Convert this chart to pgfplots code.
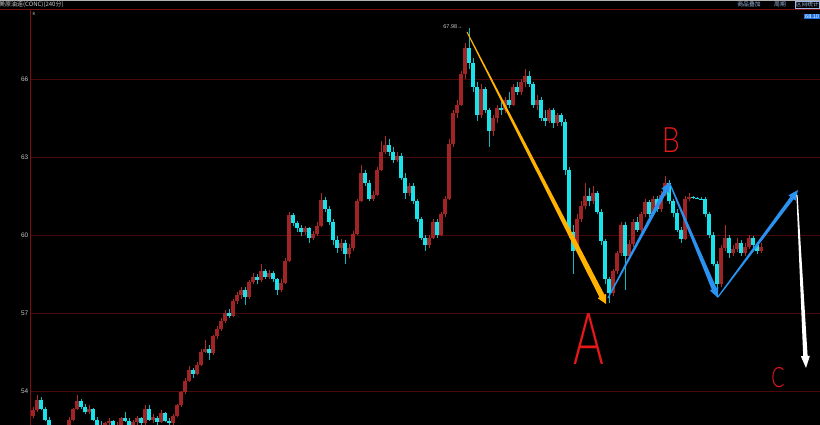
\documentclass[border=0pt]{standalone}
\usepackage{fontspec}
\setmainfont{Liberation Sans}
\newfontfamily\cjk{Noto Sans CJK SC}
\newfontfamily\thinfont{Lato Light}
\usepackage{pgfplots}
\pgfplotsset{compat=1.18}
\usepackage{pgfplotstable}
\definecolor{upbody}{HTML}{A02424}
\definecolor{upwick}{HTML}{B02A2A}
\definecolor{dnbody}{HTML}{19E3EA}
\definecolor{dnwick}{HTML}{12B8C0}
\definecolor{gridred}{HTML}{4A0A0A}
\definecolor{axisred}{HTML}{7A1010}
\definecolor{ticktext}{HTML}{C8C8C8}
\definecolor{hdrblue}{HTML}{9DB8E0}
\definecolor{arrowyellow}{HTML}{FFB300}
\definecolor{arrowblue}{HTML}{2A92F0}
\definecolor{penred}{HTML}{E81818}
\definecolor{pricebox}{HTML}{2070E0}

\pgfplotstableread{
x o h l c
0 53.05 53.40 52.95 53.27
1 53.27 53.85 53.20 53.65
2 53.65 53.75 53.25 53.30
3 53.30 53.40 52.85 52.90
4 52.90 53.00 52.50 52.60
5 52.60 52.65 52.30 52.40
6 52.40 52.55 52.20 52.35
7 52.35 52.60 52.25 52.50
8 52.50 52.70 52.40 52.60
9 52.60 53.00 52.55 52.90
10 52.90 53.35 52.85 53.30
11 53.30 53.85 53.25 53.60
12 53.60 53.70 53.30 53.40
13 53.40 53.50 53.10 53.20
14 53.20 53.45 53.10 53.30
15 53.30 53.35 52.85 52.90
16 52.90 53.00 52.60 52.70
17 52.70 52.85 52.50 52.60
18 52.60 52.80 52.50 52.75
19 52.75 52.95 52.65 52.85
20 52.85 52.90 52.55 52.65
21 52.65 52.80 52.50 52.70
22 52.70 53.00 52.60 52.95
23 52.95 53.20 52.80 52.85
24 52.85 52.95 52.60 52.70
25 52.70 52.90 52.60 52.80
26 52.80 53.05 52.70 52.95
27 52.95 53.00 52.70 52.75
28 52.75 53.45 52.70 53.30
29 53.30 53.45 52.85 52.90
30 52.90 53.10 52.75 53.00
31 52.95 53.05 52.70 52.80
32 52.80 53.25 52.75 53.15
33 53.15 53.20 52.80 52.85
34 52.85 52.95 52.60 52.75
35 52.75 53.10 52.70 53.05
36 53.05 53.50 53.00 53.45
37 53.45 54.00 53.40 53.95
38 53.95 54.50 53.90 54.40
39 54.40 54.95 54.35 54.80
40 54.80 54.90 54.50 54.65
41 54.65 55.10 54.60 55.00
42 55.00 55.60 54.95 55.50
43 55.50 55.95 55.45 55.60
44 55.60 55.75 55.20 55.45
45 55.45 56.15 55.40 56.10
46 56.10 56.50 56.00 56.40
47 56.40 56.80 56.30 56.70
48 56.70 57.10 56.60 57.00
49 57.00 57.15 56.80 56.90
50 56.90 57.55 56.85 57.45
51 57.45 57.80 57.35 57.70
52 57.70 58.00 57.55 57.90
53 57.90 58.00 57.30 57.60
54 57.60 58.25 57.55 58.20
55 58.20 58.55 58.10 58.40
56 58.40 58.50 58.10 58.25
57 58.25 58.90 58.20 58.60
58 58.60 58.70 58.30 58.40
59 58.40 58.65 58.30 58.55
60 58.55 58.60 58.20 58.30
61 58.30 58.35 57.70 57.90
62 57.90 58.30 57.80 58.15
63 58.15 59.10 58.10 59.00
64 59.00 60.90 58.95 60.75
65 60.75 60.85 60.35 60.45
66 60.45 60.55 60.10 60.25
67 60.25 60.40 59.95 60.10
68 60.10 60.35 60.00 60.25
69 60.25 60.30 59.70 59.90
70 59.90 60.15 59.80 60.05
71 60.05 60.50 59.95 60.35
72 60.35 61.60 60.30 61.35
73 61.35 61.45 60.90 61.00
74 61.00 61.10 60.40 60.50
75 60.50 60.60 59.60 59.80
76 59.80 59.95 59.30 59.50
77 59.50 59.85 59.40 59.70
78 59.70 59.80 58.90 59.25
79 59.25 59.65 59.10 59.50
80 59.50 60.15 59.40 60.05
81 60.05 61.40 60.00 61.30
82 61.30 62.70 61.25 62.40
83 62.40 62.50 61.90 62.00
84 62.00 62.10 61.30 61.40
85 61.40 61.70 61.30 61.55
86 61.55 62.60 61.50 62.50
87 62.50 63.60 62.45 63.20
88 63.20 63.80 63.10 63.45
89 63.45 63.70 63.05 63.20
90 63.20 63.40 62.75 62.90
91 62.90 63.20 62.80 63.05
92 63.05 63.15 62.10 62.20
93 62.20 62.40 61.40 61.60
94 61.60 62.00 61.50 61.90
95 61.90 62.00 61.20 61.30
96 61.30 61.40 60.50 60.60
97 60.60 60.70 59.80 59.90
98 59.90 60.00 59.40 59.60
99 59.60 60.00 59.50 59.90
100 59.90 60.60 59.85 60.50
101 60.50 60.60 59.90 60.00
102 60.00 60.90 59.95 60.80
103 60.80 61.50 60.70 61.40
104 61.40 63.70 61.35 63.50
105 63.50 64.80 63.40 64.70
106 64.70 65.20 64.50 65.00
107 65.00 66.30 64.95 66.20
108 66.20 67.40 66.00 67.20
109 67.20 67.98 66.40 66.60
110 66.60 66.80 65.50 65.70
111 65.70 65.90 64.40 64.60
112 64.60 65.80 64.50 65.60
113 65.60 65.70 64.70 64.80
114 64.80 64.90 63.40 64.00
115 64.00 64.60 63.80 64.50
116 64.50 65.00 64.30 64.90
117 64.90 65.10 64.60 64.80
118 64.80 65.30 64.70 65.20
119 65.20 65.50 64.90 65.00
120 65.00 65.80 64.95 65.70
121 65.70 65.90 65.40 65.50
122 65.50 66.00 65.40 65.90
123 65.90 66.40 65.70 66.10
124 66.10 66.30 65.70 65.80
125 65.80 65.90 64.90 65.00
126 65.00 65.40 64.80 65.20
127 65.20 65.30 64.40 64.50
128 64.50 64.80 64.20 64.40
129 64.40 64.90 64.30 64.80
130 64.80 64.90 64.10 64.30
131 64.30 64.70 64.20 64.60
132 64.60 64.70 64.20 64.35
133 64.35 64.45 62.30 62.50
134 62.50 62.60 59.90 60.10
135 60.10 60.40 58.50 59.40
136 59.40 60.80 59.30 60.60
137 60.60 61.30 60.50 61.10
138 61.10 62.00 61.00 61.50
139 61.50 61.80 61.10 61.30
140 61.30 61.90 61.20 61.60
141 61.60 61.70 60.80 60.90
142 60.90 61.00 59.60 59.75
143 59.75 59.85 58.10 58.30
144 58.30 58.40 57.40 57.75
145 57.75 58.70 57.65 58.60
146 58.60 59.40 58.50 59.30
147 59.30 60.50 59.20 60.40
148 60.40 60.50 57.90 59.20
149 59.20 59.80 59.10 59.65
150 59.65 60.60 59.55 60.50
151 60.50 60.70 60.10 60.20
152 60.20 60.90 60.10 60.80
153 60.80 61.40 60.70 61.25
154 61.25 61.35 60.70 60.80
155 60.80 61.50 60.75 61.40
156 61.40 61.50 60.90 61.00
157 61.00 61.70 60.90 61.55
158 61.55 62.25 61.50 62.00
159 62.00 62.10 61.20 61.30
160 61.30 61.40 60.70 60.85
161 60.85 61.00 60.10 60.20
162 60.20 60.30 59.70 59.85
163 59.85 61.50 59.80 61.40
164 61.40 61.60 61.30 61.45
165 61.45 61.50 61.40 61.42
166 61.42 61.45 61.38 61.40
167 61.40 61.45 61.35 61.38
168 61.38 61.45 60.70 60.80
169 60.80 60.90 59.90 60.00
170 60.00 60.10 58.80 58.90
171 58.90 59.00 57.80 58.10
172 58.10 59.60 58.00 59.50
173 59.50 60.40 59.40 59.90
174 59.90 60.00 59.10 59.30
175 59.30 59.60 59.20 59.45
176 59.45 59.90 59.35 59.70
177 59.70 59.80 59.20 59.30
178 59.30 59.70 59.20 59.55
179 59.55 60.00 59.45 59.90
180 59.90 59.95 59.50 59.60
181 59.60 59.70 59.25 59.40
182 59.40 59.70 59.30 59.55
}\candles

\begin{document}
\begin{tikzpicture}[x=1pt,y=1pt]
\fill[black] (0,0) rectangle (820,425);
\begin{axis}[
  at={(30pt,0pt)}, anchor=south west, scale only axis,
  width=790pt, height=416pt,
  xmin=-0.75, xmax=196.75, ymin=52.692, ymax=68.692,
  axis line style={draw=none},
  xtick=\empty,
  ytick={54,57,60,63,66},
  ymajorgrids, major grid style={draw=gridred, line width=0.7pt},
  major tick length=0pt,
  /pgf/number format/assume math mode=true,
  yticklabel style={font=\fontsize{6.5}{7}\selectfont, text=ticktext, inner sep=1.5pt},
  clip=true,
]
% wicks (segment from low to high)
\addplot[upwick, line width=0.9pt, forget plot,
  restrict expr to domain={\thisrow{c}-\thisrow{o}}{0:100},
  quiver={u=0, v={\thisrow{h}-\thisrow{l}}}]
  table[x=x, y=l]{\candles};
\addplot[dnwick, line width=0.9pt, forget plot,
  restrict expr to domain={\thisrow{c}-\thisrow{o}}{-100:-0.00001},
  quiver={u=0, v={\thisrow{h}-\thisrow{l}}}]
  table[x=x, y=l]{\candles};
% bodies (segment from open to close)
\addplot[upbody, line width=3.1pt, forget plot,
  restrict expr to domain={\thisrow{c}-\thisrow{o}}{0:100},
  quiver={u=0, v={max(\thisrow{c}-\thisrow{o},0.04)}}]
  table[x=x, y=o]{\candles};
\addplot[dnbody, line width=3.1pt, forget plot,
  restrict expr to domain={\thisrow{c}-\thisrow{o}}{-100:-0.00001},
  quiver={u=0, v={min(\thisrow{c}-\thisrow{o},-0.04)}}]
  table[x=x, y=o]{\candles};

% yellow arrow (peak to A)
\addplot[fill=arrowyellow, draw=none, forget plot] coordinates {
 (108.61,67.817) (142.85,57.703) (143.29,57.738) (143.25,57.346)
 (141.16,57.570) (141.60,57.605) (108.39,67.799)} -- cycle;
% blue arrows
\addplot[fill=arrowblue, draw=none, forget plot] coordinates {
 (143.88,57.566) (158.51,61.663) (159.07,61.618) (159.25,62.038)
 (157.08,61.781) (157.63,61.735) (143.62,57.588)} -- cycle;
\addplot[fill=arrowblue, draw=none, forget plot] coordinates {
 (159.39,61.970) (170.86,57.969) (171.32,57.999) (171.25,57.577)
 (169.24,57.864) (169.71,57.894) (159.11,61.953)} -- cycle;
\addplot[fill=arrowblue, draw=none, forget plot] coordinates {
 (171.37,57.602) (190.15,61.377) (190.65,61.319) (191.25,61.731)
 (188.85,61.527) (189.35,61.469) (171.13,57.629)} -- cycle;
% white arrow
\addplot[fill=white, draw=none, forget plot] coordinates {
 (191.15,61.540) (193.65,55.350) (194.22,55.355) (193.25,54.885)
 (191.97,55.337) (192.55,55.342) (190.85,61.537)} -- cycle;

\node[anchor=east, inner sep=0.5pt, text=ticktext, font=\fontsize{5.5}{6}\selectfont] at (axis cs:107.6,68.0) {67.98→};
\end{axis}

% axis frame lines
\draw[axisred, line width=0.8pt] (30,0) -- (30,416);
\draw[axisred, line width=0.8pt] (0,416) -- (820,416);
\draw[gray!60, line width=0.6pt] (0,424.7) -- (820,424.7);

% header
\node[anchor=west, inner sep=0pt, text=ticktext, font=\cjk\fontsize{6}{7}\selectfont] at (-1,420.3) {美原油连(CONC)(240分)};
\node[anchor=center, inner sep=0pt, text=hdrblue, font=\cjk\fontsize{5.8}{7}\selectfont] at (749,420.3) {商品叠加};
\node[anchor=center, inner sep=0pt, text=hdrblue, font=\cjk\fontsize{5.8}{7}\selectfont] at (780,420.3) {周期};
\node[anchor=west, draw=hdrblue, line width=0.4pt, inner sep=0.6pt, text=hdrblue, font=\cjk\fontsize{5.8}{7}\selectfont] at (795,420.3) {区间统计};
\node[anchor=west, inner sep=0pt, text=ticktext, font=\fontsize{4.5}{5}\selectfont] at (32.5,411) {K};
\node[anchor=east, fill=pricebox, inner sep=0.8pt, text=white, font=\fontsize{5.5}{6}\selectfont] at (820,408.5) {68.10};

% hand-written wave labels
\node[text=penred, inner sep=0pt, font=\thinfont\fontsize{72}{72}\selectfont] at (589,86) {\scalebox{0.65}[1]{A}};
\node[text=penred, inner sep=0pt, font=\thinfont\fontsize{35}{35}\selectfont] at (671,285) {\scalebox{0.8}[1]{B}};
\node[text=penred, inner sep=0pt, font=\thinfont\fontsize{28}{28}\selectfont] at (778,47) {\scalebox{0.7}[1]{C}};

\pgfresetboundingbox
\path (0,0) rectangle (820,425);
\end{tikzpicture}
\end{document}
